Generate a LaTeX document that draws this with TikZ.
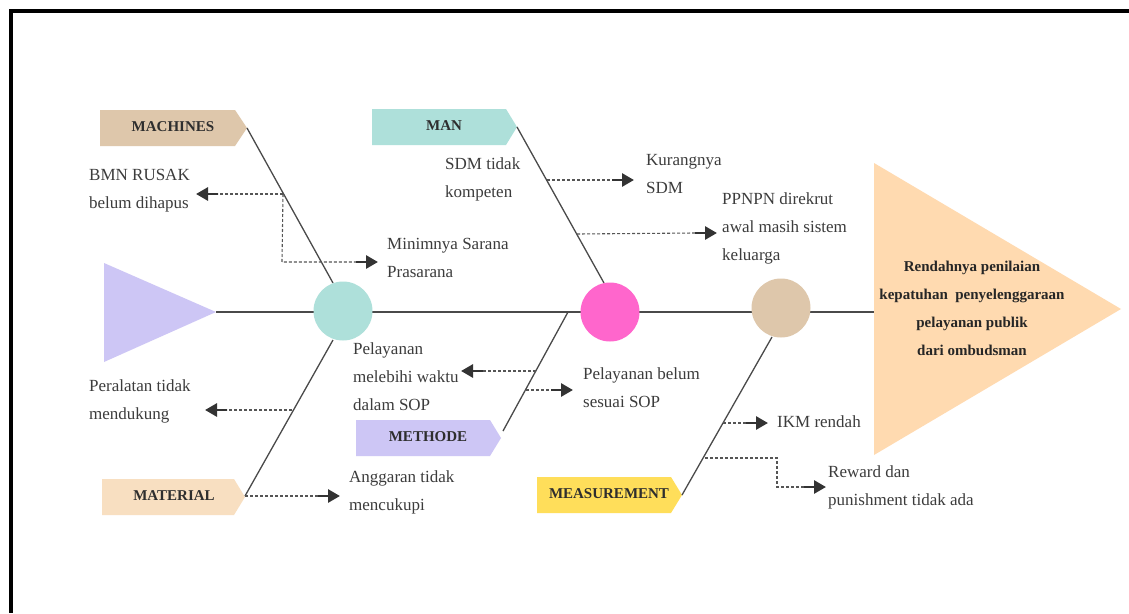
\documentclass[tikz,border=0pt]{standalone}
\usepackage{fontspec}
\setmainfont{Liberation Serif}
\usetikzlibrary{arrows.meta,calc}
\definecolor{lav}{HTML}{CDC6F5}
\definecolor{teal}{HTML}{AEE0DA}
\definecolor{pinkc}{HTML}{FF66CC}
\definecolor{tanc}{HTML}{DEC7AB}
\definecolor{peach}{HTML}{FFDAB0}
\definecolor{matc}{HTML}{F8DFC1}
\definecolor{measc}{HTML}{FFDE5A}
\definecolor{bonec}{HTML}{4A4A4A}
\definecolor{dashc}{HTML}{555555}
\definecolor{arrc}{HTML}{333333}
\definecolor{txtc}{HTML}{3C3C3C}
\definecolor{tagc}{HTML}{2E2E2E}
\begin{document}
\begin{tikzpicture}[x=1pt,y=-1pt,
  bone/.style={draw=bonec, line width=1.3pt},
  dsh/.style={draw=dashc, dash pattern=on 3pt off 2pt, line width=1.1pt},
  tiparrow/.style={draw=arrc, line width=2.8pt, -{Triangle[length=12pt,width=13pt]}},
  txt/.style={anchor=west, inner sep=0pt, align=left, text=txtc, font=\fontsize{17}{28}\selectfont},
  tagtxt/.style={inner sep=0pt, text=tagc, font=\fontsize{15}{18}\selectfont\bfseries},
  headtxt/.style={inner sep=0pt, align=center, text=black!85, font=\fontsize{15}{28}\selectfont\bfseries},
  dot/.style={circle, minimum size=59pt, inner sep=0pt}
]
\useasboundingbox (0,0) rectangle (1129,613);
\fill[white] (0,0) rectangle (1129,613);
% frame
\draw[line width=4pt, line join=miter] (1129,11) -- (11,11) -- (11,613);

% tail and head
\fill[lav] (104,263) -- (216,312) -- (104,362) -- cycle;
\fill[peach] (874,163) -- (1121,309) -- (874,455) -- cycle;
\node[headtxt] (head) at (972,308) {Rendahnya penilaian\\kepatuhan~~penyelenggaraan\\pelayanan publik\\dari ombudsman};

% spine
\coordinate (tail) at (216,312);
\coordinate (headl) at (874,312);
\draw[bone, line width=1.5pt] (tail) -- (headl);

% tags
\fill[tanc] (100,110) -- (235,110) -- (247,128) -- (235,146) -- (100,146) -- cycle;
\node[tagtxt] (machines) at (173,127) {MACHINES};
\fill[teal] (372,109) -- (506,109) -- (517,127) -- (506,145) -- (372,145) -- cycle;
\node[tagtxt] (man) at (444,126) {MAN};
\fill[lav] (356,420) -- (490,420) -- (501,438) -- (490,456) -- (356,456) -- cycle;
\node[tagtxt] (methode) at (428,437) {METHODE};
\fill[matc] (102,479) -- (234,479) -- (245,497) -- (234,515) -- (102,515) -- cycle;
\node[tagtxt] (material) at (174,496) {MATERIAL};
\fill[measc] (537,477) -- (671,477) -- (682,495) -- (671,513) -- (537,513) -- cycle;
\node[tagtxt] (measurement) at (609,494) {MEASUREMENT};

% bone ends
\coordinate (machtip) at (247,128);
\coordinate (mantip) at (517,127);
\coordinate (methtip) at (503,431);
\coordinate (mattip) at (245,496);
\coordinate (meastip) at (682,495);
\coordinate (e1) at (333,283);
\coordinate (e2) at (604,283);
\coordinate (e3) at (568,312);
\coordinate (e4) at (333,340);
\coordinate (e5) at (772,337);

\draw[bone] (machtip) -- (e1);
\draw[bone] (mantip) -- (e2);
\draw[bone] (methtip) -- (e3);
\draw[bone] (mattip) -- (e4);
\draw[bone] (meastip) -- (e5);

% circles
\node[dot, fill=teal] (c1) at (343,311) {};
\node[dot, fill=pinkc] (c2) at (610,312) {};
\node[dot, fill=tanc] (c3) at (781,308) {};

% texts
\node[txt] (bmn) at (89,191) {BMN RUSAK\\belum dihapus};
\node[txt] (minim) at (387,258) {Minimnya Sarana\\Prasarana};
\node[txt] (sdm) at (445,179) {SDM tidak\\kompeten};
\node[txt] (kurang) at (646,174) {Kurangnya\\SDM};
\node[txt] (ppnpn) at (722,228) {PPNPN direkrut\\awal masih sistem\\keluarga};
\node[txt] (peralatan) at (89,401) {Peralatan tidak\\mendukung};
\node[txt] (pel1) at (353,377) {Pelayanan\\melebihi waktu\\dalam SOP};
\node[txt] (anggaran) at (349,492) {Anggaran tidak\\mencukupi};
\node[txt] (pel2) at (583,388) {Pelayanan belum\\sesuai SOP};
\node[txt] (ikm) at (777,422) {IKM rendah};
\node[txt] (reward) at (828,487) {Reward dan\\punishment tidak ada};

% cause arrows
\coordinate (s1) at (283,194);
\coordinate (t1) at (196,194);
\draw[dsh] (s1) -- ([xshift=22pt]t1);
\draw[tiparrow] ([xshift=22pt]t1) -- (t1);

\coordinate (k2) at (282,262);
\coordinate (t2) at (378,262);
\draw[dsh] (s1) -- (k2) -- ([xshift=-22pt]t2);
\draw[tiparrow] ([xshift=-22pt]t2) -- (t2);

\coordinate (s3) at (547,180);
\coordinate (t3) at (634,180);
\draw[dsh] (s3) -- ([xshift=-22pt]t3);
\draw[tiparrow] ([xshift=-22pt]t3) -- (t3);

\coordinate (s4) at (577,234);
\coordinate (t4) at (717,233);
\draw[dsh] (s4) -- ([xshift=-22pt]t4);
\draw[tiparrow] ([xshift=-22pt]t4) -- (t4);

\coordinate (s5) at (292,410);
\coordinate (t5) at (205,410);
\draw[dsh] (s5) -- ([xshift=22pt]t5);
\draw[tiparrow] ([xshift=22pt]t5) -- (t5);

\coordinate (t6) at (340,496);
\draw[dsh] (mattip) -- ([xshift=-22pt]t6);
\draw[tiparrow] ([xshift=-22pt]t6) -- (t6);

\coordinate (s7) at (536,371);
\coordinate (t7) at (461,371);
\draw[dsh] (s7) -- ([xshift=22pt]t7);
\draw[tiparrow] ([xshift=22pt]t7) -- (t7);

\coordinate (s8) at (526,390);
\coordinate (t8) at (573,390);
\draw[dsh] (s8) -- ([xshift=-22pt]t8);
\draw[tiparrow] ([xshift=-22pt]t8) -- (t8);

\coordinate (s9) at (723,423);
\coordinate (t9) at (768,423);
\draw[dsh] (s9) -- ([xshift=-22pt]t9);
\draw[tiparrow] ([xshift=-22pt]t9) -- (t9);

\coordinate (s10) at (705,458);
\coordinate (k10a) at (777,458);
\coordinate (k10b) at (777,487);
\coordinate (t10) at (826,487);
\draw[dsh] (s10) -- (k10a) -- (k10b) -- ([xshift=-22pt]t10);
\draw[tiparrow] ([xshift=-22pt]t10) -- (t10);
\end{tikzpicture}
\end{document}
